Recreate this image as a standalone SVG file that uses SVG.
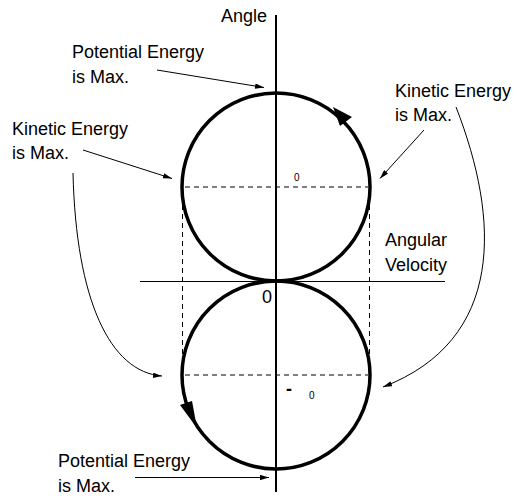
<svg xmlns="http://www.w3.org/2000/svg" width="517" height="500" viewBox="0 0 517 500">
<defs>
<style>
text{font-family:"Liberation Sans",Arial,sans-serif;font-size:18px;fill:#000}
.small{font-size:10px}
.axis{stroke:#000;fill:none}
.orbit{stroke:#000;stroke-width:3.5;fill:none}
.dash{stroke:#000;stroke-width:1;stroke-dasharray:5,4;fill:none}
.ptr{stroke:#000;stroke-width:1;fill:none;marker-end:url(#ah)}
</style>
<marker id="ah" viewBox="0 0 10 6" refX="10" refY="3" markerWidth="9" markerHeight="5.4" markerUnits="userSpaceOnUse" orient="auto">
<path d="M0,0 L10,3 L0,6 z" fill="#000"/>
</marker>
</defs>
<g id="axes">
<line class="axis" x1="276" y1="15" x2="276" y2="492" stroke-width="2"/>
<line class="axis" x1="140" y1="281.5" x2="445" y2="281.5" stroke-width="1"/>
</g>
<g id="upper-circle">
<circle class="orbit" cx="276" cy="187" r="94"/>
<path d="M333,107 L352,117 L340,126 z" fill="#000"/>
</g>
<g id="lower-circle">
<circle class="orbit" cx="276" cy="375" r="94"/>
<path d="M180,405 L192,401 L197,428 z" fill="#000"/>
</g>
<g id="guides">
<line class="dash" x1="185" y1="187" x2="368" y2="187"/>
<line class="dash" x1="185" y1="375" x2="368" y2="375"/>
<line class="dash" x1="182.5" y1="205" x2="182.5" y2="355"/>
<line class="dash" x1="369.5" y1="205" x2="369.5" y2="355"/>
</g>
<g id="connectors">
<line class="ptr" x1="157" y1="70" x2="264" y2="87.5"/>
<line class="ptr" x1="424" y1="130" x2="380" y2="178.5"/>
<line class="ptr" x1="83" y1="150" x2="172" y2="178.5"/>
<path class="ptr" d="M73,173 C76,300 110,372 162,376"/>
<path class="ptr" d="M456,107 C500,220 505,340 383,387"/>
<line class="ptr" x1="135" y1="477.5" x2="269" y2="477.5"/>
</g>
<g id="labels">
<text x="221" y="22">Angle</text>
<text x="72" y="58">Potential Energy</text>
<text x="72" y="82.5">is Max.</text>
<text x="395" y="97">Kinetic Energy</text>
<text x="395" y="121">is Max.</text>
<text x="12" y="135">Kinetic Energy</text>
<text x="12" y="159">is Max.</text>
<text x="385" y="246">Angular</text>
<text x="385" y="271">Velocity</text>
<text x="262" y="303">0</text>
<text class="small" x="294" y="181">0</text>
<text x="286" y="395" font-weight="bold">-</text>
<text class="small" x="309" y="399">0</text>
<text x="58" y="467">Potential Energy</text>
<text x="58" y="492">is Max.</text>
</g>
</svg>
